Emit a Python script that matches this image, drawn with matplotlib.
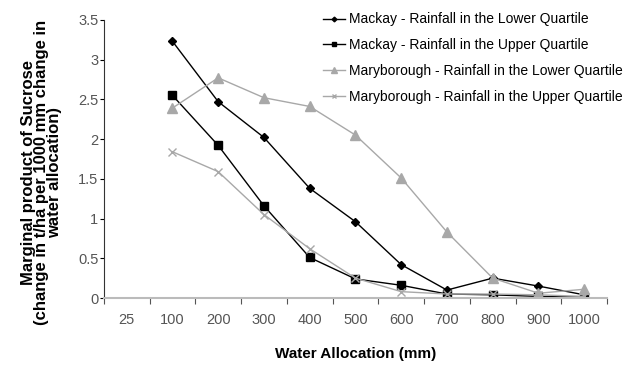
import matplotlib
matplotlib.use("Agg")
import matplotlib.pyplot as plt
import numpy as np

plt.rcParams['font.family'] = ['Liberation Sans', 'DejaVu Sans']

# categories on the x axis
allocation = ['25', '100', '200', '300', '400', '500', '600', '700', '800', '900', '1000']

# series start at the 100 mm category
mackay_lower = [3.23, 2.47, 2.02, 1.38, 0.96, 0.42, 0.10, 0.25, 0.15, 0.04]
mackay_upper = [2.55, 1.92, 1.16, 0.51, 0.24, 0.16, 0.05, 0.04, 0.02, 0.01]
mary_lower = [2.39, 2.77, 2.52, 2.41, 2.05, 1.51, 0.83, 0.25, 0.06, 0.11]
mary_upper = [1.84, 1.59, 1.05, 0.62, 0.25, 0.08, 0.05, 0.05, 0.04, 0.02]

labels = ['Mackay - Rainfall in the Lower Quartile',
          'Mackay - Rainfall in the Upper Quartile',
          'Maryborough - Rainfall in the Lower Quartile',
          'Maryborough - Rainfall in the Upper Quartile']

fig = plt.figure(figsize=(6.33, 3.67), dpi=100)
ax = fig.add_axes([0.164, 0.188, 0.795, 0.758])

x = np.arange(1, len(allocation))
ax.plot(x, mackay_lower, color='black', marker='D', markersize=4, lw=1, label=labels[0])
ax.plot(x, mackay_upper, color='black', marker='s', markersize=6, lw=1, label=labels[1])
ax.plot(x, mary_lower, color='#a8a8a8', marker='^', markersize=7, lw=1, label=labels[2])
ax.plot(x, mary_upper, color='#a8a8a8', marker='x', markersize=6, lw=1, label=labels[3])

ax.set_xlim(-0.5, len(allocation) - 0.5)
ax.set_ylim(0, 3.5)
ax.set_yticks(np.arange(0, 3.6, 0.5))
ax.set_yticklabels(['0', '0.5', '1', '1.5', '2', '2.5', '3', '3.5'])

# ticks between categories, labels at category centres
ax.set_xticks(np.arange(-0.5, len(allocation)), minor=False)
ax.set_xticklabels([])
ax.set_xticks(np.arange(len(allocation)), minor=True)
ax.set_xticklabels(allocation, minor=True)
ax.tick_params(axis='x', which='major', length=4, color='#555555')
ax.tick_params(axis='x', which='minor', length=0, pad=11, labelsize=10.5, labelcolor='#555555')
ax.tick_params(axis='y', length=3, pad=1, labelsize=10.5, labelcolor='#555555')

for s in ['top', 'right']:
    ax.spines[s].set_visible(False)
ax.spines['bottom'].set_color('#bbbbbb')
ax.spines['bottom'].set_linewidth(1.5)
ax.spines['left'].set_color('#333333')

ax.set_xlabel('Water Allocation (mm)', fontweight='bold', fontsize=11, labelpad=14)
fig.text(0.066, 0.531,
         'Marginal product of Sucrose\n(change in t/ha per 1000 mm change in\nwater allocation)',
         rotation=90, ha='center', va='center', multialignment='center',
         fontweight='bold', fontsize=12, linespacing=0.85)

fig.legend(loc='upper left', bbox_to_anchor=(0.49, 1.0), frameon=False, fontsize=10,
           handlelength=1.6, handletextpad=0.3, labelspacing=0.85, markerscale=0.6)

fig.savefig('out.png', dpi=100)
